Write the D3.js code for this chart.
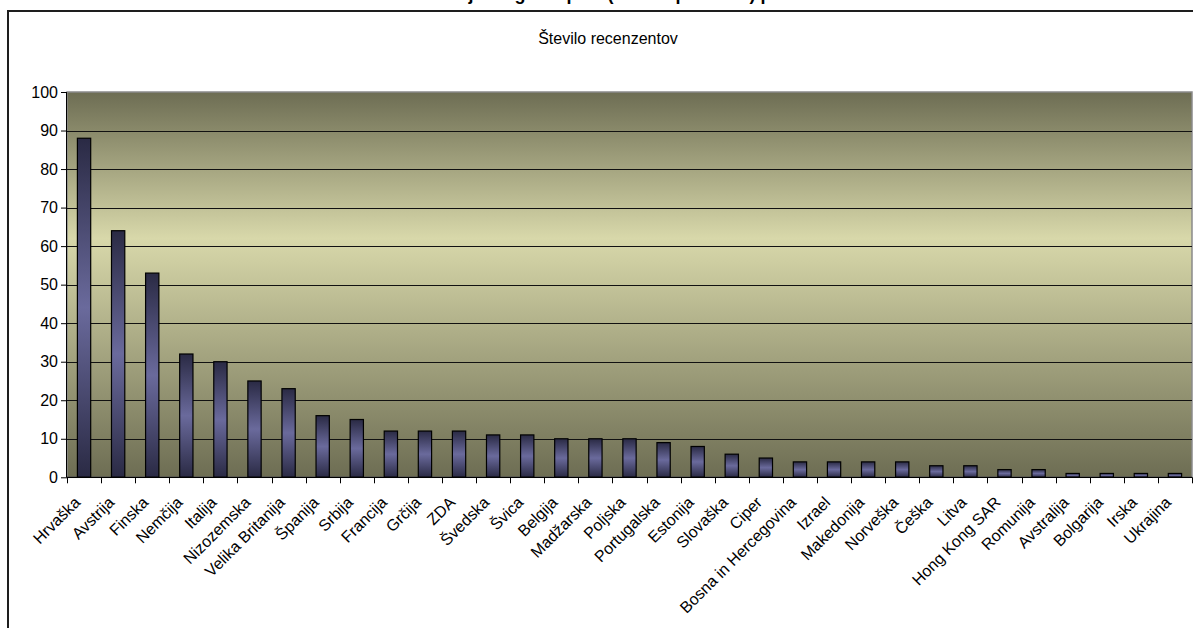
<!DOCTYPE html>
<html>
<head>
<meta charset="utf-8">
<script src="https://cdn.jsdelivr.net/npm/d3@7/dist/d3.min.js"></script>
<style>
html,body{margin:0;padding:0;background:#fff;overflow:hidden;}
svg text{font-family:Arial,"Liberation Sans",sans-serif;}
</style>
</head>
<body>
<svg id="c" width="1193" height="628"></svg>
<script>
const titleText = "Recenzenti javnega razpisa (število poslanih) po državah";
const subtitleText = "Število recenzentov";
const categories = ["Hrvaška","Avstrija","Finska","Nemčija","Italija","Nizozemska","Velika Britanija","Španija","Srbija","Francija","Grčija","ZDA","Švedska","Švica","Belgija","Madžarska","Poljska","Portugalska","Estonija","Slovaška","Ciper","Bosna in Hercegovina","Izrael","Makedonija","Norveška","Češka","Litva","Hong Kong SAR","Romunija","Avstralija","Bolgarija","Irska","Ukrajina"];
const values = [88,64,53,32,30,25,23,16,15,12,12,12,11,11,10,10,10,9,8,6,5,4,4,4,4,3,3,2,2,1,1,1,1];
const yTicks = [0,10,20,30,40,50,60,70,80,90,100];

const svg = d3.select("#c");
const m = {left:67, right:1192, top:92, bottom:477.3};

const defs = svg.append("defs");
const bg = defs.append("linearGradient").attr("id","bg").attr("x1",0).attr("y1",0).attr("x2",0).attr("y2",1);
bg.append("stop").attr("offset","0%").attr("stop-color","#6d6d53");
bg.append("stop").attr("offset","38%").attr("stop-color","#d8d8aa");
bg.append("stop").attr("offset","100%").attr("stop-color","#6d6d53");
const bar = defs.append("linearGradient").attr("id","bar").attr("x1",0).attr("y1",0).attr("x2",0).attr("y2",1);
bar.append("stop").attr("offset","0%").attr("stop-color","#2a2a44");
bar.append("stop").attr("offset","50%").attr("stop-color","#6a6a9c");
bar.append("stop").attr("offset","100%").attr("stop-color","#2a2a44");

// outer frame
svg.append("rect").attr("x",8).attr("y",11).attr("width",1300).attr("height",800)
  .attr("fill","#fff").attr("stroke","#1e1e1e").attr("stroke-width",2);

// title (clipped at top, as in the reference)
svg.append("text").attr("x",612).attr("y",-0.5).attr("text-anchor","middle")
  .attr("font-size",18).attr("font-weight","bold").attr("fill","#000").text(titleText);

svg.append("text").attr("x",608).attr("y",44).attr("text-anchor","middle")
  .attr("font-size",16).attr("fill","#000").text(subtitleText);

const x = d3.scaleBand().domain(categories).range([m.left, m.right]).paddingInner(0).paddingOuter(0);
const y = d3.scaleLinear().domain([0,100]).range([m.bottom, m.top]);

// plot background
svg.append("rect").attr("x",m.left).attr("y",m.top).attr("width",m.right-m.left).attr("height",m.bottom-m.top)
  .attr("fill","url(#bg)").attr("stroke","#8a8a8a").attr("stroke-width",1.5);

// gridlines
svg.append("g").selectAll("line").data(yTicks.filter(d=>d>0&&d<100)).join("line")
  .attr("x1",m.left).attr("x2",m.right).attr("y1",d=>Math.round(y(d))+0.5).attr("y2",d=>Math.round(y(d))+0.5)
  .attr("stroke","#111").attr("stroke-width",1);

// bars
const bw = x.bandwidth()*0.39;
svg.append("g").selectAll("rect").data(values).join("rect")
  .attr("x",(d,i)=>x(categories[i])+x.bandwidth()/2-bw/2)
  .attr("width",bw)
  .attr("y",d=>y(d))
  .attr("height",d=>y(0)-y(d))
  .attr("fill","url(#bar)").attr("stroke","#000").attr("stroke-width",1.2);

// y axis
const ya = d3.axisLeft(y).tickValues(yTicks).tickSize(6).tickPadding(3);
const yg = svg.append("g").attr("transform",`translate(${m.left},0)`).call(ya);
yg.select(".domain").attr("stroke","#000").attr("d",`M-0.5,${m.top}V${m.bottom}`);
yg.selectAll(".tick line").attr("stroke","#000");
yg.selectAll(".tick text").attr("font-size",16).attr("fill","#000").attr("font-family","Arial, Liberation Sans, sans-serif");

// x axis line and ticks
const xg = svg.append("g");
xg.append("line").attr("x1",m.left).attr("x2",m.right).attr("y1",m.bottom).attr("y2",m.bottom).attr("stroke","#000").attr("stroke-width",1.2);
const bounds = categories.map(c=>x(c)).concat([m.right]);
xg.selectAll("line.t").data(bounds).join("line").attr("class","t")
  .attr("x1",d=>Math.round(d)+0.5).attr("x2",d=>Math.round(d)+0.5).attr("y1",m.bottom).attr("y2",m.bottom+6)
  .attr("stroke","#000");

// x labels
xg.selectAll("text").data(categories).join("text")
  .attr("transform",d=>`translate(${x(d)+x.bandwidth()/2-11},${m.bottom+18}) rotate(-45)`)
  .attr("text-anchor","end").attr("dy","0.72em")
  .attr("font-size",16).attr("fill","#000").text(d=>d);
</script>
</body>
</html>
